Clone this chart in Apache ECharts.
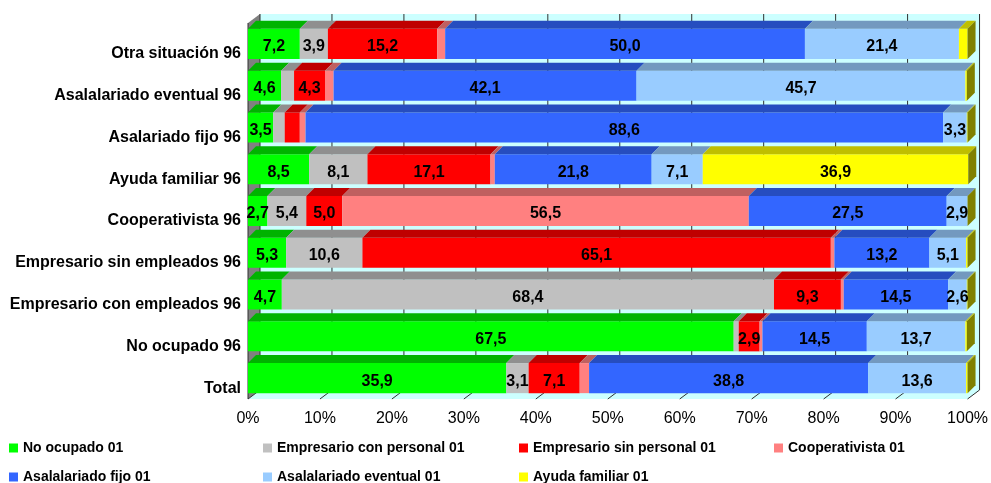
<!DOCTYPE html>
<html>
<head>
<meta charset="utf-8">
<script src="https://cdn.jsdelivr.net/npm/echarts@6/dist/echarts.min.js"></script>
<style>
  html, body { margin: 0; padding: 0; background: #ffffff; }
  #chart { width: 991px; height: 483px; }
</style>
</head>
<body>
<div id="chart"></div>
<script>
// Rows, listed top to bottom
const categories = [
  'Otra situación 96',
  'Asalalariado eventual 96',
  'Asalariado fijo 96',
  'Ayuda familiar 96',
  'Cooperativista 96',
  'Empresario sin empleados 96',
  'Empresario con empleados 96',
  'No ocupado 96',
  'Total'
];

const seriesNames = [
  'No ocupado 01',
  'Empresario con personal 01',
  'Empresario sin personal 01',
  'Cooperativista 01',
  'Asalalariado fijo 01',
  'Asalalariado eventual 01',
  'Ayuda familiar 01'
];

// Percentages per row (same order as categories)
const noOcupado      = [7.2, 4.6, 3.5, 8.5, 2.7, 5.3, 4.7, 67.5, 35.9];
const empConPersonal = [3.9, 1.8, 1.6, 8.1, 5.4, 10.6, 68.4, 0.7, 3.1];
const empSinPersonal = [15.2, 4.3, 2.1, 17.1, 5.0, 65.1, 9.3, 2.9, 7.1];
const cooperativista = [1.1, 1.2, 0.8, 0.6, 56.5, 0.5, 0.4, 0.4, 1.3];
const asalFijo       = [50.0, 42.1, 88.6, 21.8, 27.5, 13.2, 14.5, 14.5, 38.8];
const asalEventual   = [21.4, 45.7, 3.3, 7.1, 2.9, 5.1, 2.6, 13.7, 13.6];
const ayudaFamiliar  = [1.2, 0.2, 0.1, 36.9, 0.0, 0.2, 0.1, 0.2, 0.2];

const xTicks = [0, 10, 20, 30, 40, 50, 60, 70, 80, 90, 100];

// front / top face colours for each series
const frontColors = ['#00FF00', '#C0C0C0', '#FF0000', '#FF8080', '#3366FF', '#99CCFF', '#FFFF00'];
const topColors   = ['#00B300', '#8F8F8F', '#BF0000', '#BF6060', '#264DBF', '#7399BF', '#BFBF00'];
const sideColor   = '#808000';

const allValues = [noOcupado, empConPersonal, empSinPersonal, cooperativista, asalFijo, asalEventual, ayudaFamiliar];

// depth of the bars and of the walls (pseudo 3D)
const BAR_DX = 8, BAR_DY = 8;
const WALL_DX = 12, WALL_DY = 9;
const BAR_RATIO = 0.72;
const FONT = 'Liberation Sans, Arial, sans-serif';

function fmt(v) { return v.toFixed(1).replace('.', ','); }

// build stacked [start, end, row, value] items
const cumulative = categories.map(() => 0);
const stackedData = allValues.map(vals => vals.map((v, row) => {
  const start = cumulative[row];
  cumulative[row] += v;
  return [start, start + v, row, v];
}));

const lastIndex = allValues.length - 1;

function makeBarSeries(si) {
  return {
    name: seriesNames[si],
    type: 'custom',
    z: 3,
    clip: false,
    itemStyle: { color: frontColors[si] },
    encode: { x: [0, 1], y: 2 },
    data: stackedData[si],
    renderItem: function (params, api) {
      const row = api.value(2);
      const v = api.value(3);
      const p0 = api.coord([api.value(0), row]);
      const p1 = api.coord([api.value(1), row]);
      const h = api.size([0, 1])[1] * BAR_RATIO;
      const x0 = p0[0], x1 = p1[0];
      const top = p0[1] - h / 2, bot = p0[1] + h / 2;
      const children = [];
      if (x1 - x0 > 0.01) {
        children.push({
          type: 'rect',
          shape: { x: x0, y: top, width: x1 - x0, height: h },
          style: { fill: frontColors[si] }
        });
        children.push({
          type: 'polygon',
          shape: { points: [[x0, top], [x1, top], [x1 + BAR_DX, top - BAR_DY], [x0 + BAR_DX, top - BAR_DY]] },
          style: { fill: topColors[si] }
        });
      }
      if (si === lastIndex) {
        children.push({
          type: 'polygon',
          shape: { points: [[x1, top], [x1 + BAR_DX, top - BAR_DY], [x1 + BAR_DX, bot - BAR_DY], [x1, bot]] },
          style: { fill: sideColor }
        });
      }
      if (v >= 2.5) {
        children.push({
          type: 'text',
          z2: 100,
          style: {
            text: fmt(v),
            x: (x0 + x1) / 2,
            y: p0[1] + 3,
            textAlign: 'center',
            textVerticalAlign: 'middle',
            fontFamily: FONT,
            fontWeight: 'bold',
            fontSize: 16,
            fill: '#000000'
          }
        });
      }
      return { type: 'group', children: children };
    }
  };
}

// back wall, side wall, floor and gridlines
const wallSeries = {
  name: 'walls',
  type: 'custom',
  z: 1,
  clip: false,
  silent: true,
  encode: { x: 0, y: 1 },
  data: [[0, 0]],
  renderItem: function (params, api) {
    const band = api.size([0, 1])[1];
    const yTop = api.coord([0, 0])[1] - band / 2;
    const yBot = api.coord([0, categories.length - 1])[1] + band / 2;
    const xL = api.coord([0, 0])[0];
    const xR = api.coord([100, 0])[0];
    const children = [
      { type: 'rect', shape: { x: xL + WALL_DX, y: yTop - WALL_DY, width: xR - xL, height: yBot - yTop },
        style: { fill: '#CCFFFF' } },
      { type: 'polygon', shape: { points: [[xL, yTop], [xL + WALL_DX, yTop - WALL_DY], [xL + WALL_DX, yBot - WALL_DY], [xL, yBot]] },
        style: { fill: '#808080' } },
      { type: 'polygon', shape: { points: [[xL, yBot], [xL + WALL_DX, yBot - WALL_DY], [xR + WALL_DX, yBot - WALL_DY], [xR, yBot]] },
        style: { fill: '#CCFFFF' } }
    ];
    xTicks.forEach(t => {
      const x = api.coord([t, 0])[0];
      children.push({ type: 'line',
        shape: { x1: x + WALL_DX, y1: yTop - WALL_DY, x2: x + WALL_DX, y2: yBot - WALL_DY },
        style: { stroke: '#303030', lineWidth: 1 } });
      children.push({ type: 'line',
        shape: { x1: x, y1: yBot, x2: x + WALL_DX, y2: yBot - WALL_DY },
        style: { stroke: '#303030', lineWidth: 1 } });
    });
    children.push({ type: 'line',
      shape: { x1: xL, y1: yTop, x2: xL, y2: yBot },
      style: { stroke: '#303030', lineWidth: 1 } });
    return { type: 'group', children: children };
  }
};

const legendText = {
  fontFamily: FONT,
  fontWeight: 'bold',
  fontSize: 14,
  color: '#000000',
  lineHeight: 16
};
// one legend block per entry: [series index, left, top]
const legendSlots = [
  [0, 9, 440], [1, 263, 440], [2, 519, 440], [3, 774, 440],
  [4, 9, 469], [5, 263, 469], [6, 519, 469]
];

const chart = echarts.init(document.getElementById('chart'), null, { renderer: 'canvas' });
chart.setOption({
  animation: false,
  backgroundColor: '#ffffff',
  grid: { left: 248, right: 21, top: 23, bottom: 84, containLabel: false },
  xAxis: {
    type: 'value',
    min: 0,
    max: 100,
    interval: 10,
    axisLine: { show: false },
    axisTick: { show: false },
    splitLine: { show: false },
    axisLabel: {
      formatter: '{value}%',
      margin: 12,
      fontFamily: FONT,
      fontSize: 16,
      color: '#000000'
    }
  },
  yAxis: {
    type: 'category',
    inverse: true,
    data: categories,
    axisLine: { show: false },
    axisTick: { show: false },
    splitLine: { show: false },
    axisLabel: {
      margin: 7,
      verticalAlign: 'top',
      padding: [2, 0, 0, 0],
      fontFamily: FONT,
      fontWeight: 'bold',
      fontSize: 16,
      color: '#000000'
    }
  },
  legend: legendSlots.map(s => ({
    left: s[1],
    top: s[2],
    padding: 0,
    itemWidth: 9,
    itemHeight: 9,
    icon: 'rect',
    selectedMode: false,
    textStyle: legendText,
    data: [seriesNames[s[0]]]
  })),
  series: [wallSeries].concat(seriesNames.map((n, i) => makeBarSeries(i)))
});
</script>
</body>
</html>
